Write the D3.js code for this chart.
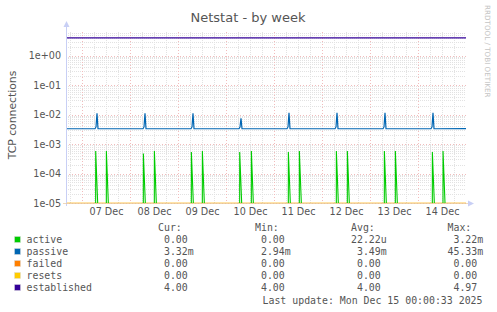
<!DOCTYPE html>
<html><head><meta charset="utf-8">
<script src="https://cdn.jsdelivr.net/npm/d3@7"></script>
<style>
html,body{margin:0;padding:0;background:#fff;}
svg{display:block;}
text{font-family:"DejaVu Sans",sans-serif;}
.mono{font-family:"DejaVu Sans Mono",monospace;white-space:pre;}
</style></head>
<body>
<svg id="chart" width="497" height="312"></svg>
<script>
// ---------- data ----------
const title = "Netstat - by week";
const yTitle = "TCP connections";
const timeStart = "2025-12-06T16:00";
const timeEnd = "2025-12-15T00:00";
const dayLabelTimes = ["2025-12-07T12:00","2025-12-08T12:00","2025-12-09T12:00","2025-12-10T12:00",
  "2025-12-11T12:00","2025-12-12T12:00","2025-12-13T12:00","2025-12-14T12:00"];
const yTickValues = [1e-5, 1e-4, 1e-3, 1e-2, 1e-1, 1e0];

const seriesNames = ["active","passive","failed","resets","established"];
const seriesColors = ["#00CC00","#0066B3","#FF8000","#FFCC00","#330099"];

// passive: baseline with one spike per day
const passiveTimes = ["2025-12-06T16:00",
 "2025-12-07T06:30","2025-12-07T07:00","2025-12-07T07:30","2025-12-07T08:00",
 "2025-12-08T06:30","2025-12-08T07:00","2025-12-08T07:30","2025-12-08T08:00",
 "2025-12-09T06:30","2025-12-09T07:00","2025-12-09T07:30","2025-12-09T08:00",
 "2025-12-10T06:30","2025-12-10T07:00","2025-12-10T07:30","2025-12-10T08:00",
 "2025-12-11T06:30","2025-12-11T07:00","2025-12-11T07:30","2025-12-11T08:00",
 "2025-12-12T06:30","2025-12-12T07:00","2025-12-12T07:30","2025-12-12T08:00",
 "2025-12-13T06:30","2025-12-13T07:00","2025-12-13T07:30","2025-12-13T08:00",
 "2025-12-14T06:30","2025-12-14T07:00","2025-12-14T07:30","2025-12-14T08:00",
 "2025-12-15T00:00"];
const passiveValues = [3.3e-3,
 3.3e-3,3.8e-3,1.1e-2,3.3e-3,
 3.3e-3,3.8e-3,1.1e-2,3.3e-3,
 3.3e-3,3.8e-3,1.1e-2,3.3e-3,
 3.3e-3,3.8e-3,7.5e-3,3.3e-3,
 3.3e-3,3.8e-3,1.15e-2,3.3e-3,
 3.3e-3,3.8e-3,1.15e-2,3.3e-3,
 3.3e-3,3.8e-3,1.15e-2,3.3e-3,
 3.3e-3,3.8e-3,1.15e-2,3.3e-3,
 3.32e-3];

// active: zero except two short bursts per day
const activeTimes = ["2025-12-06T16:00",
 "2025-12-07T06:50","2025-12-07T06:51","2025-12-07T07:50","2025-12-07T12:10","2025-12-07T12:11","2025-12-07T13:10",
 "2025-12-08T06:40","2025-12-08T06:41","2025-12-08T07:40","2025-12-08T12:10","2025-12-08T12:11","2025-12-08T13:10",
 "2025-12-09T06:40","2025-12-09T06:41","2025-12-09T07:40","2025-12-09T12:10","2025-12-09T12:11","2025-12-09T13:10",
 "2025-12-10T06:50","2025-12-10T06:51","2025-12-10T07:50","2025-12-10T12:40","2025-12-10T12:41","2025-12-10T13:40",
 "2025-12-11T07:10","2025-12-11T07:11","2025-12-11T08:10","2025-12-11T12:40","2025-12-11T12:41","2025-12-11T13:40",
 "2025-12-12T07:10","2025-12-12T07:11","2025-12-12T08:10","2025-12-12T12:40","2025-12-12T12:41","2025-12-12T13:40",
 "2025-12-13T07:10","2025-12-13T07:11","2025-12-13T08:10","2025-12-13T12:40","2025-12-13T12:41","2025-12-13T13:40",
 "2025-12-14T07:10","2025-12-14T07:11","2025-12-14T08:10","2025-12-14T12:30","2025-12-14T12:31","2025-12-14T13:30",
 "2025-12-15T00:00"];
const activeValues = [0,
 0,5.8e-4,0, 0,5.8e-4,0,
 0,4.8e-4,0, 0,5.8e-4,0,
 0,5.35e-4,0, 0,5.8e-4,0,
 0,5.35e-4,0, 0,5.8e-4,0,
 0,5.35e-4,0, 0,5.8e-4,0,
 0,5.8e-4,0, 0,5.8e-4,0,
 0,5.8e-4,0, 0,5.8e-4,0,
 0,5.35e-4,0, 0,5.8e-4,0,
 0];

const failedTimes = [timeStart, timeEnd];
const failedValues = [0, 0];
const resetsTimes = [timeStart, timeEnd];
const resetsValues = [0, 0];
const establishedTimes = [timeStart, timeEnd];
const establishedValues = [4, 4];

// legend statistics
const statCur = [0, 3.32e-3, 0, 0, 4.00];
const statMin = [0, 2.94e-3, 0, 0, 4.00];
const statAvg = [22.22e-6, 3.49e-3, 0, 0, 4.00];
const statMax = [3.22e-3, 45.33e-3, 0, 0, 4.97];
const lastUpdate = "Last update: Mon Dec 15 00:00:33 2025";
const watermark = "RRDTOOL / TOBI OETIKER";

// ---------- layout ----------
const W = 497, H = 312;
const X0 = 66, X1 = 466, YT = 32, YB = 203;
const parse = d3.timeParse("%Y-%m-%dT%H:%M");

const x = d3.scaleTime().domain([parse(timeStart), parse(timeEnd)]).range([X0, X1]);
const y = d3.scaleLog().domain([1e-5, Math.pow(10, 0.8)]).range([YB, YT]).clamp(true);
const yv = v => y(Math.max(v, 1e-7));

const svg = d3.select("#chart");
svg.append("rect").attr("width", W).attr("height", H).attr("fill", "#fff");

// ---------- grid ----------
const grid = svg.append("g").attr("shape-rendering", "crispEdges");
const minorCol = "#e2e2e2", majorCol = "#f2bcbc";
const yMinor = [];
for (let e = -5; e <= 0; e++) for (let m = 2; m <= 9; m++) { const v = m * Math.pow(10, e); if (v <= y.domain()[1]) yMinor.push(v); }
grid.selectAll(".hmin").data(yMinor).join("line")
  .attr("x1", X0).attr("x2", X1).attr("y1", d => Math.round(y(d)) + 0.5).attr("y2", d => Math.round(y(d)) + 0.5)
  .attr("stroke", minorCol).attr("stroke-dasharray", "1,1");
const vMinor = d3.timeHour.every(6).range(parse(timeStart), parse(timeEnd)).filter(d => d.getHours() !== 0);
grid.selectAll(".vmin").data(vMinor).join("line")
  .attr("y1", YT).attr("y2", YB).attr("x1", d => Math.round(x(d)) + 0.5).attr("x2", d => Math.round(x(d)) + 0.5)
  .attr("stroke", minorCol).attr("stroke-dasharray", "1,1");
grid.selectAll(".hmaj").data(yTickValues).join("line")
  .attr("x1", X0).attr("x2", X1).attr("y1", d => Math.round(y(d)) + 0.5).attr("y2", d => Math.round(y(d)) + 0.5)
  .attr("stroke", majorCol).attr("stroke-dasharray", "1,2");
const vMajor = d3.timeDay.range(parse(timeStart), parse(timeEnd));
grid.selectAll(".vmaj").data(vMajor).join("line")
  .attr("y1", YT).attr("y2", YB).attr("x1", d => Math.round(x(d)) + 0.5).attr("x2", d => Math.round(x(d)) + 0.5)
  .attr("stroke", majorCol).attr("stroke-dasharray", "1,2");

// ---------- series ----------
const mk = (ts, vs) => ts.map((t, i) => ({ t: parse(t), v: vs[i] }));
const series = [
  mk(activeTimes, activeValues),
  mk(passiveTimes, passiveValues),
  mk(failedTimes, failedValues),
  mk(resetsTimes, resetsValues),
  mk(establishedTimes, establishedValues)
];
const line = d3.line().x(d => x(d.t)).y(d => yv(d.v));

// zero runs on a log axis sit on the baseline; the active line is drawn around its non-zero samples
const splitSpikes = pts => {
  const segs = [];
  pts.forEach((p, i) => {
    if (p.v > 0) segs.push([pts[i - 1], p, pts[i + 1]].filter(Boolean));
  });
  return segs;
};

svg.append("path").datum(series[2]).attr("d", line).attr("fill", "none")
  .attr("stroke", seriesColors[2]).attr("stroke-width", 1).attr("stroke-opacity", 0.35);
svg.append("path").datum(series[3]).attr("d", line).attr("fill", "none")
  .attr("stroke", seriesColors[3]).attr("stroke-width", 1).attr("stroke-opacity", 0.4);
svg.append("g").selectAll("path").data(splitSpikes(series[0])).join("path")
  .attr("d", line).attr("fill", "none").attr("stroke", seriesColors[0]).attr("stroke-width", 1.1);
svg.append("path").datum(series[1]).attr("d", line).attr("fill", "none")
  .attr("stroke", seriesColors[1]).attr("stroke-width", 1.2);
svg.append("path").datum(series[4]).attr("d", line).attr("fill", "none")
  .attr("stroke", seriesColors[4]).attr("stroke-width", 1.2);

// ---------- axes ----------
const axCol = "#c8cff5";
svg.append("line").attr("x1", X0 + 0.5).attr("x2", X0 + 0.5).attr("y1", YB + 3).attr("y2", 26).attr("stroke", axCol);
svg.append("path").attr("d", `M${X0 - 2.5},27 L${X0 + 3.5},27 L${X0 + 0.5},21 Z`).attr("fill", axCol);
svg.append("line").attr("x1", X0 - 3).attr("x2", X1 + 3).attr("y1", YB + 0.5).attr("y2", YB + 0.5).attr("stroke", "#e8c9a0").attr("stroke-opacity", 0.7);
svg.append("path").attr("d", `M${X1 + 2},${YB - 2.5} L${X1 + 2},${YB + 3.5} L${X1 + 8},${YB + 0.5} Z`).attr("fill", axCol);

const expFmt = v => { const e = Math.round(Math.log10(v)); return "1e" + (e < 0 ? "-" : "+") + String(Math.abs(e)).padStart(2, "0"); };
const yAxis = d3.axisLeft(y).tickValues(yTickValues).tickFormat(expFmt).tickSize(0).tickPadding(0);
const gy = svg.append("g").attr("transform", `translate(${X0 - 5},0)`).call(yAxis);
gy.select(".domain").remove();
gy.selectAll("text").attr("font-family", "DejaVu Sans").attr("font-size", 9.6).attr("fill", "#555").attr("dy", "0.35em");

const xAxis = d3.axisBottom(x).tickValues(dayLabelTimes.map(parse)).tickFormat(d3.timeFormat("%d %b")).tickSize(0).tickPadding(0);
const gx = svg.append("g").attr("transform", `translate(0,${YB + 5})`).call(xAxis);
gx.select(".domain").remove();
gx.selectAll("text").attr("font-family", "DejaVu Sans").attr("font-size", 9.6).attr("fill", "#555").attr("dy", "0.75em");

// titles
svg.append("text").attr("x", 248).attr("y", 22).attr("text-anchor", "middle")
  .attr("font-size", 13).attr("fill", "#555").text(title);
svg.append("text").attr("transform", "translate(15.5,115) rotate(-90)").attr("text-anchor", "middle")
  .attr("font-size", 10.8).attr("fill", "#555").text(yTitle);
svg.append("text").attr("transform", "translate(484.5,5) rotate(90)").attr("text-anchor", "start")
  .attr("font-size", 7.2).attr("fill", "#c4c4c4").text(watermark);

// ---------- legend ----------
const fmt = v => {
  if (v === 0) return " 0.00";
  const a = Math.abs(v);
  let s, u;
  if (a < 1e-3) { s = (v * 1e6).toFixed(2); u = "u"; }
  else if (a < 1) { s = (v * 1e3).toFixed(2); u = "m"; }
  else { s = v.toFixed(2); u = ""; }
  return s.padStart(5, " ") + u;
};
const lg = svg.append("g").attr("class", "mono").attr("font-size", 9.9).attr("fill", "#555");
const colX = [158, 255, 351, 447.5];
["Cur:", "Min:", "Avg:", "Max:"].forEach((h, i) => {
  lg.append("text").attr("class", "mono").attr("x", colX[i]).attr("y", 230.5).text(h);
});
const stats = [statCur, statMin, statAvg, statMax];
seriesNames.forEach((n, r) => {
  const yy = 243 + r * 12;
  svg.append("rect").attr("x", 14.5).attr("y", yy - 6.5).attr("width", 6).attr("height", 6)
    .attr("fill", seriesColors[r]).attr("stroke", "#ddd").attr("stroke-width", 0.5);
  lg.append("text").attr("class", "mono").attr("x", 26.5).attr("y", yy).text(n);
  stats.forEach((arr, c) => {
    lg.append("text").attr("class", "mono").attr("x", colX[c]).attr("y", yy).text(fmt(arr[r]));
  });
});
lg.append("text").attr("class", "mono").attr("x", 482.5).attr("y", 303.5).attr("text-anchor", "end").text(lastUpdate);
</script>
</body></html>
